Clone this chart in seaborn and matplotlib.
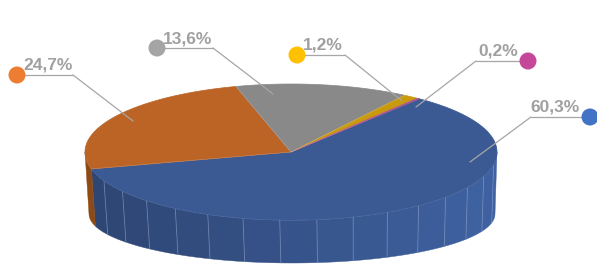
import numpy as np
import pandas as pd
import matplotlib
matplotlib.use("Agg")
import matplotlib.pyplot as plt
import seaborn as sns
from matplotlib.patches import Polygon
from matplotlib.colors import to_rgb

# ---- data ----
categories = ["Série A", "Série B", "Série C", "Série D", "Série E"]
values = [60.3, 24.7, 13.6, 1.2, 0.2]
labels = ["60,3%", "24,7%", "13,6%", "1,2%", "0,2%"]

# ---- styles ----
top_colors = ["#3B5A94", "#BC6425", "#898989", "#C99A0B", "#A23F7C"]
side_dark = ["#2D4572", "#8C4A16", "#6E6E6E", "#A07A08", "#7E3060"]
side_light = ["#3F62A2", "#A65A1E", "#8A8A8A", "#C09510", "#9A3A75"]
key_colors = ["#4472C4", "#ED7D31", "#A5A5A5", "#FFC000", "#C5479A"]

sns.set_theme(style="white")
plt.rcParams["font.family"] = ["Liberation Sans", "DejaVu Sans"]

W, H = 597, 264
fig = plt.figure(figsize=(W / 100, H / 100), dpi=100)
ax = fig.add_axes([0, 0, 1, 1])
ax.set_xlim(0, W)
ax.set_ylim(H, 0)
ax.axis("off")

# geometry of the pseudo-3D pie
cx, cy, rx, ry = 291, 152, 206, 68        # top ellipse
bcx, bcy, brx, bry = 292, 214, 203, 49     # bottom ellipse
start = 51.5                               # degrees, clockwise drawing


def top_pt(t):
    r = np.radians(t)
    return cx + rx * np.cos(r), cy - ry * np.sin(r)


def bot_pt(t):
    r = np.radians(t)
    return bcx + brx * np.cos(r), bcy - bry * np.sin(r)


fr = np.array(values) / sum(values)
bounds = start - np.concatenate([[0], np.cumsum(fr)]) * 360

# ---- side walls (front half visible: t in [-180, 0] mod 360) ----
for i in range(len(values)):
    a0, a1 = bounds[i], bounds[i + 1]  # a0 > a1
    for k in (-360, 0, 360):
        lo = max(a1, -180 + k)
        hi = min(a0, 0 + k)
        if hi - lo <= 0.01:
            continue
        n = max(int((hi - lo) / 10), 1)
        ts = np.linspace(lo, hi, n + 1)
        cd, cl = np.array(to_rgb(side_dark[i])), np.array(to_rgb(side_light[i]))
        for j in range(n):
            seg = np.linspace(ts[j], ts[j + 1], 8)
            tp = [top_pt(t) for t in seg]
            bp = [bot_pt(t) for t in seg[::-1]]
            xm = np.mean([p[0] for p in tp])
            f = np.clip((xm - 85) / (497 - 85), 0, 1)
            col = cd * (1 - f) + cl * f
            ax.add_patch(Polygon(tp + bp, closed=True, facecolor=col,
                                 edgecolor=col, lw=0.3, zorder=1))
        for t in ts[1:-1]:
            p, q = top_pt(t), bot_pt(t)
            ax.plot([p[0], q[0]], [p[1], q[1]], color="#8FA3CC", lw=0.6,
                    alpha=0.55, zorder=2)
        seg = np.linspace(lo, hi, 60)
        ax.plot([top_pt(t)[0] for t in seg], [top_pt(t)[1] for t in seg],
                color="#9AAED6", lw=0.6, alpha=0.7, zorder=2)

# ---- top wedges ----
for i in range(len(values)):
    a0, a1 = bounds[i], bounds[i + 1]
    seg = np.linspace(a0, a1, max(int(abs(a0 - a1)), 2) + 1)
    pts = [(cx, cy)] + [top_pt(t) for t in seg]
    ax.add_patch(Polygon(pts, closed=True, facecolor=top_colors[i],
                         edgecolor=top_colors[i], lw=0.5, zorder=3))
# faint separators
for b in bounds[:-1]:
    p = top_pt(b)
    ax.plot([cx, p[0]], [cy, p[1]], color="#FFFFFF", lw=0.4, alpha=0.25, zorder=4)

# ---- labels with leader lines ----
lab = pd.DataFrame({
    "cat": categories,
    "key_x": [590, 17, 157, 297, 528],
    "key_y": [117, 75, 48, 55, 61],
    "ul_x0": [531, 17, 157, 297, 476],
    "ul_x1": [590, 73, 213, 345, 528],
    "elbow_x": [531, 73, 213, 345, 476],
    "tx": [470, 133, 273, 402, 416],
    "ty": [162, 121, 94, 101, 107],
    "text_x": [555, 48, 188, 323, 498],
})
for i, r in lab.iterrows():
    ax.plot([r.ul_x0, r.ul_x1], [r.key_y, r.key_y], color="#A6A6A6", lw=0.9, zorder=5)
    ax.plot([r.elbow_x, r.tx], [r.key_y, r.ty], color="#A6A6A6", lw=0.9, zorder=5)
    ax.text(r.text_x, r.key_y - 2, labels[i], ha="center", va="bottom",
            fontsize=12.5, fontweight="bold", color="#A0A0A0", zorder=6)

sns.scatterplot(data=lab, x="key_x", y="key_y", hue="cat", palette=key_colors,
                s=150, edgecolor="none", legend=False, ax=ax, zorder=7, clip_on=False)
ax.set_xlim(0, W)
ax.set_ylim(H, 0)
ax.axis("off")

fig.savefig("out.png", dpi=100)
